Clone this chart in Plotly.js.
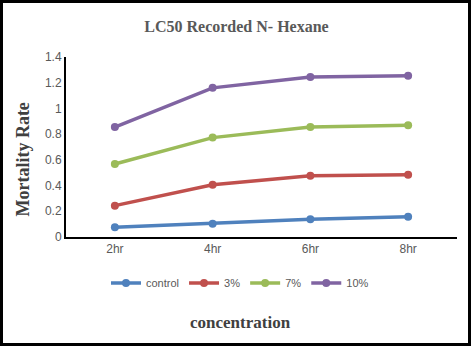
<!DOCTYPE html>
<html><head><meta charset="utf-8">
<script src="https://cdn.plot.ly/plotly-3.0.1.min.js"></script>
<style>
html,body{margin:0;padding:0;background:#fff;}
#wrap{position:relative;width:473px;height:348px;}
#chart{position:absolute;left:0;top:0;width:473px;height:348px;}
#frame{position:absolute;left:0;top:0;width:471px;height:346px;box-sizing:border-box;border:3px solid #000;pointer-events:none;}
</style></head>
<body><div id="wrap"><div id="chart"></div><div id="frame"></div></div>
<script>
const categories = ["2hr", "4hr", "6hr", "8hr"];
const seriesNames = ["control", "3%", "7%", "10%"];
const control = [0.075, 0.104, 0.138, 0.158];
const pct3 = [0.244, 0.407, 0.477, 0.485];
const pct7 = [0.568, 0.773, 0.855, 0.870];
const pct10 = [0.855, 1.160, 1.244, 1.255];
const colors = ["#4F81BD", "#C0504D", "#9BBB59", "#8064A2"];
const yTicks = [0, 0.2, 0.4, 0.6, 0.8, 1, 1.2, 1.4];
const yTickText = ["0", "0.2", "0.4", "0.6", "0.8", "1", "1.2", "1.4"];

const values = [control, pct3, pct7, pct10];
const traces = values.map((v, i) => ({
  x: categories, y: v, name: seriesNames[i], type: "scatter", mode: "lines+markers",
  line: {color: colors[i], width: 3.5}, marker: {color: colors[i], size: 8}
}));
const serif = "Liberation Serif, Times New Roman, serif";
const sans = "Liberation Sans Narrow, Liberation Sans, Arial, sans-serif";
Plotly.newPlot("chart", traces, {
  width: 473, height: 348,
  margin: {l: 66, r: 16, t: 57, b: 111},
  paper_bgcolor: "#fff", plot_bgcolor: "#fff",
  title: {text: "<b>LC50 Recorded N- Hexane</b>", x: 0.5, xanchor: "center", y: 0.925, yanchor: "middle",
    font: {family: serif, size: 16, color: "#595959"}},
  xaxis: {type: "category", range: [-0.5, 3.5], showline: true, linecolor: "#000", linewidth: 2,
    showgrid: false, zeroline: false, ticks: "", tickfont: {family: sans, size: 12, color: "#595959"}},
  yaxis: {range: [0, 1.4], tickvals: yTicks, ticktext: yTickText, showline: true, linecolor: "#000", linewidth: 2,
    showgrid: false, zeroline: false, ticks: "", tickfont: {family: sans, size: 12, color: "#595959"}},
  annotations: [
    {text: "<b>Mortality Rate</b>", textangle: -90, xref: "paper", yref: "paper", x: -0.11, y: 0.43,
     xanchor: "center", yanchor: "middle", showarrow: false, font: {family: serif, size: 18, color: "#404040"}},
    {text: "<b>concentration</b>", xref: "paper", yref: "paper", x: 0.447, y: -0.475,
     xanchor: "center", yanchor: "middle", showarrow: false, font: {family: serif, size: 17, color: "#404040"}}
  ],
  legend: {orientation: "h", x: 0.445, xanchor: "center", y: -0.255, yanchor: "middle",
    font: {family: sans, size: 11, color: "#595959"}, itemwidth: 30, tracegroupgap: 0},
  showlegend: true
}, {displayModeBar: false, staticPlot: true});
</script></body></html>
